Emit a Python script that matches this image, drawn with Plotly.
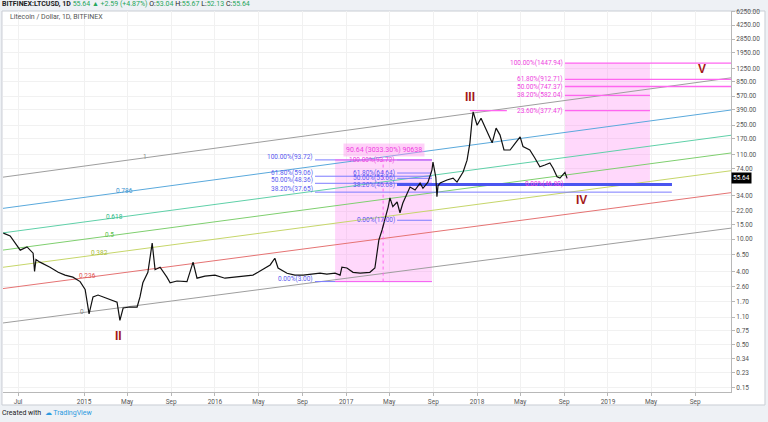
import numpy as np
import plotly.graph_objects as go

# ---------------- data ----------------
price_dates = [
    "2014-05-21", "2014-06-09", "2014-07-07", "2014-07-26", "2014-08-12", "2014-08-16", "2014-08-20",
    "2014-08-31", "2014-09-28", "2014-10-21", "2014-11-09", "2014-12-01", "2014-12-21", "2015-01-04",
    "2015-01-15", "2015-01-26", "2015-02-09", "2015-03-01", "2015-03-20", "2015-04-03", "2015-04-11",
    "2015-04-20", "2015-05-09", "2015-05-29", "2015-06-06", "2015-06-14", "2015-06-28", "2015-07-10",
    "2015-07-18", "2015-08-01", "2015-08-20", "2015-08-29", "2015-09-17", "2015-10-15", "2015-11-01",
    "2015-11-12", "2015-12-04", "2016-01-01", "2016-01-29", "2016-02-20", "2016-03-19", "2016-04-16",
    "2016-04-30", "2016-05-20", "2016-06-03", "2016-06-16", "2016-06-25", "2016-07-20", "2016-08-11",
    "2016-09-03", "2016-09-28", "2016-10-20", "2016-11-08", "2016-12-01", "2016-12-15", "2016-12-20",
    "2017-01-03", "2017-01-20", "2017-02-09", "2017-03-08", "2017-03-22", "2017-03-28", "2017-04-02",
    "2017-04-11", "2017-04-19", "2017-04-28", "2017-05-03", "2017-05-11", "2017-05-23", "2017-05-31",
    "2017-06-08", "2017-06-20", "2017-06-28", "2017-07-12", "2017-07-26", "2017-08-03", "2017-08-17",
    "2017-08-28", "2017-08-31", "2017-09-08", "2017-09-11", "2017-09-14", "2017-09-20", "2017-10-09",
    "2017-10-26", "2017-11-06", "2017-11-23", "2017-12-04", "2017-12-12", "2017-12-18", "2017-12-21",
    "2018-01-01", "2018-01-12", "2018-01-23", "2018-02-03", "2018-02-12", "2018-02-23", "2018-03-06",
    "2018-03-17", "2018-03-25", "2018-04-03", "2018-04-17", "2018-05-01", "2018-05-09", "2018-05-28",
    "2018-06-11", "2018-06-25", "2018-07-09", "2018-07-23", "2018-08-01", "2018-08-12", "2018-08-20",
    "2018-08-28", "2018-09-03", "2018-09-09",
]
price_close = [
    11.8, 10.9, 7.3, 8.0, 6.7, 4.0, 5.6,
    5.2, 4.5, 3.9, 3.6, 3.4, 3.0, 2.4,
    1.2, 1.94, 2.05, 1.89, 1.78, 1.68, 1.0,
    1.42, 1.46, 1.46, 1.94, 2.9, 3.9, 8.9,
    4.2, 4.5, 3.4, 2.9, 3.05, 3.0, 5.2,
    3.3, 3.5, 3.6, 3.3, 3.4, 3.5, 3.6,
    3.9, 4.4, 4.8, 5.8, 4.4, 3.8, 3.6,
    3.6, 3.7, 3.8, 3.7, 3.8, 3.6, 4.5,
    4.4, 3.9, 3.8, 3.9, 4.4, 7.3, 9.7,
    12.9, 17.0, 24.7, 32.0, 25.0, 28.5, 21.0,
    27.7, 36.7, 43.5, 40.0, 48.7, 42.0, 50.0,
    70.0, 88.0, 57.0, 33.0, 45.0, 48.7, 53.0,
    56.0, 50.0, 66.6, 93.0, 152.0, 290.0, 364.0,
    250.0, 305.0, 237.0, 189.0, 152.0, 230.0, 189.0,
    124.0, 124.0, 124.0, 150.0, 180.0, 137.0, 124.0,
    99.0, 77.0, 81.0, 86.0, 74.0, 58.0, 56.0,
    61.0, 66.0, 55.64,
]
last_price = 55.64

ytick_vals = [0.15, 0.23, 0.34, 0.50, 0.75, 1.10, 1.70, 2.60, 4.00, 6.50, 10.0, 15.0, 22.0, 34.0,
              74.0, 110.0, 170.0, 250.0, 390.0, 570.0, 850.0, 1250.0, 1950.0, 2850.0, 4250.0, 6250.0]
ytick_text = ["0.15", "0.23", "0.34", "0.50", "0.75", "1.10", "1.70", "2.60", "4.00", "6.50", "10.00",
              "15.00", "22.00", "34.00", "74.00", "110.00", "170.00", "250.00", "390.00", "570.00",
              "850.00", "1250.00", "1950.00", "2850.00", "4250.00", "6250.00"]
xtick_vals = ["2014-07-01", "2015-01-01", "2015-05-01", "2015-09-01", "2016-01-01", "2016-05-01",
              "2016-09-01", "2017-01-01", "2017-05-01", "2017-09-01", "2018-01-01", "2018-05-01",
              "2018-09-01", "2019-01-01", "2019-05-01", "2019-09-01"]
xtick_text = ["Jul", "2015", "May", "Sep", "2016", "May", "Sep", "2017", "May", "Sep", "2018", "May",
              "Sep", "2019", "May", "Sep"]

# Fibonacci channel (anchors of the 0 line and the 1 line)
chan_dates = ["2014-05-20", "2019-12-10"]
chan_base = [0.93, 13.6]
chan_top = [57.5, 955.0]
chan_levels = [0, 0.236, 0.382, 0.5, 0.618, 0.786, 1]
chan_text = ["0", "0.236", "0.382", "0.5", "0.618", "0.786", "1"]
chan_label_dates = ["2014-12-26", "2015-01-12", "2015-02-14", "2015-03-14", "2015-03-28", "2015-04-25", "2015-06-20"]
chan_colors = ["#9e9e9e", "#e57373", "#c6d66a", "#7fcf6f", "#5fd0a8", "#5aa9dc", "#9e9e9e"]
chan_text_colors = ["#8a8a8a", "#e05555", "#a8bb35", "#5cbf4a", "#30b887", "#3c93cf", "#8a8a8a"]

# Fib retracement 1 (blue)
fib1_prices = [3.00, 37.65, 48.36, 59.06, 93.72]
fib1_text = ["0.00%(3.00)", "38.20%(37.65)", "50.00%(48.36)", "61.80%(59.06)", "100.00%(93.72)"]
fib1_start = "2016-10-06"
fib1_ends = ["2017-08-28", "2019-06-28", "2017-08-28", "2017-08-28", "2017-08-28"]

# Fib retracement 2 (blue)
fib2_prices = [17.00, 46.68, 55.66, 64.64, 93.72]
fib2_text = ["0.00%(17.00)", "38.20%(46.68)", "50.00%(55.66)", "61.80%(64.64)", "100.00%(93.72)"]
fib2_start = "2017-05-23"
fib2_ends = ["2017-08-28", "2019-06-28", "2017-08-28", "2017-08-28", "2017-08-28"]
fib2_widths = [1, 3, 1, 1, 1]

# Fib extension 3 (pink)
fib3_prices = [46.80, 377.47, 582.04, 747.37, 912.71, 1447.94]
fib3_text = ["0.00%(46.80)", "23.60%(377.47)", "38.20%(582.04)", "50.00%(747.37)", "61.80%(912.71)", "100.00%(1447.94)"]
fib3_start = "2018-09-03"
fib3_ends = ["2019-04-28", "2019-04-28", "2019-04-28", "2019-12-10", "2019-12-10", "2019-12-10"]
fib3_box_end = "2019-04-28"
iii_line_dates = ["2017-12-12", "2018-03-25"]

# Date & price range box
range_box_dates = ["2016-12-01", "2017-08-28"]
range_box_prices = [3.00, 93.72]
range_mid_date = "2017-04-14"
range_label = "90.64 (3033.30%) 90638"
range_label_date = "2017-04-16"

# Elliott wave labels
wave_text = ["II", "III", "IV", "V"]
wave_dates = ["2015-04-08", "2017-12-12", "2018-10-18", "2019-09-21"]
wave_prices = [0.64, 555.0, 30.0, 1225.0]

BLUE_LINE = "#7c7cff"
BLUE_TEXT = "#5a5af0"
BLUE_THICK = "#4a55f0"
PINK_LINE = "#ff66f0"
PINK_TEXT = "#ee3fe0"
PINK_FILL = "rgba(255,110,240,0.27)"
FONT = "Roboto"

fig = go.Figure()


def hline(x0, x1, p, color, width=1, dash="solid"):
    fig.add_trace(go.Scatter(x=[x0, x1], y=[p, p], mode="lines",
                             line=dict(color=color, width=width, dash=dash),
                             hoverinfo="skip", showlegend=False))


def box(x0, x1, p0, p1, fill):
    fig.add_trace(go.Scatter(x=[x0, x1, x1, x0, x0], y=[p0, p0, p1, p1, p0], mode="lines",
                             fill="toself", fillcolor=fill, line=dict(width=0),
                             hoverinfo="skip", showlegend=False))


# boxes
box(range_box_dates[0], range_box_dates[1], range_box_prices[0], range_box_prices[1], PINK_FILL)
box(fib3_start, fib3_box_end, fib3_prices[0], fib3_prices[-1], PINK_FILL)

# channel lines
lb = np.log10(chan_base)
lt = np.log10(chan_top)
for lev, col in zip(chan_levels, chan_colors):
    ys = 10 ** (lb + (lt - lb) * lev)
    fig.add_trace(go.Scatter(x=chan_dates, y=ys, mode="lines", line=dict(color=col, width=1),
                             hoverinfo="skip", showlegend=False))

# fib 1
for p, e in zip(fib1_prices, fib1_ends):
    hline(fib1_start, e, p, BLUE_LINE, 1)
# fib 2
for p, e, w in zip(fib2_prices, fib2_ends, fib2_widths):
    hline(fib2_start, e, p, BLUE_THICK if w > 1 else BLUE_LINE, w)
# range box edges
hline(range_box_dates[0], range_box_dates[1], range_box_prices[0], PINK_LINE, 1)
hline(range_box_dates[0], range_box_dates[1], range_box_prices[1], PINK_LINE, 1)
fig.add_trace(go.Scatter(x=[range_mid_date, range_mid_date], y=range_box_prices, mode="lines",
                         line=dict(color=PINK_LINE, width=1, dash="dot"), hoverinfo="skip", showlegend=False))
# fib 3
for p, e in zip(fib3_prices, fib3_ends):
    hline(fib3_start, e, p, PINK_LINE, 1.3)
hline(iii_line_dates[0], iii_line_dates[1], fib3_prices[1], PINK_LINE, 1.3)
# re-draw thick blue on top
hline(fib2_start, fib2_ends[1], fib2_prices[1], BLUE_THICK, 3)

# price
fig.add_trace(go.Scatter(x=price_dates, y=price_close, mode="lines",
                         line=dict(color="#111111", width=1.2), hoverinfo="skip", showlegend=False))

ann = []


def label(x, p, text, color, xanchor="right", yshift=3, size=6.5, bg=None):
    d = dict(x=x, y=float(np.log10(p)), xref="x", yref="y", text=text, showarrow=False,
             xanchor=xanchor, yanchor="middle", yshift=yshift,
             font=dict(family=FONT, size=size, color=color))
    if bg:
        d["bgcolor"] = bg
    ann.append(d)


for t, p in zip(fib1_text, fib1_prices):
    label(fib1_start, p, t, BLUE_TEXT)
for i, (t, p) in enumerate(zip(fib2_text, fib2_prices)):
    label(fib2_start, p, t, PINK_TEXT if i == 4 else BLUE_TEXT, yshift=0)
for t, p in zip(fib3_text, fib3_prices):
    label(fib3_start, p, t, PINK_TEXT, yshift=0)

ann.append(dict(x=range_label_date, y=float(np.log10(range_box_prices[1])), xref="x", yref="y",
                text=range_label, showarrow=False, xanchor="center", yanchor="bottom", yshift=3,
                bgcolor="rgba(255,150,240,0.45)", borderpad=2,
                font=dict(family=FONT, size=7, color=PINK_TEXT)))

# channel labels
cd = np.array(chan_dates, dtype="datetime64[D]").astype(float)
for t, d, lev, col in zip(chan_text, chan_label_dates, chan_levels, chan_text_colors):
    f = (np.datetime64(d, "D").astype(float) - cd[0]) / (cd[1] - cd[0])
    lyv = lb[0] + (lb[1] - lb[0]) * f
    lyt = lt[0] + (lt[1] - lt[0]) * f
    yv = lyv + (lyt - lyv) * lev
    ann.append(dict(x=d, y=float(yv), xref="x", yref="y", text=t, showarrow=False,
                    xanchor="center", yanchor="middle", yshift=1,
                    font=dict(family=FONT, size=6.5, color=col)))

for t, d, p in zip(wave_text, wave_dates, wave_prices):
    ann.append(dict(x=d, y=float(np.log10(p)), xref="x", yref="y", text="<b>%s</b>" % t, showarrow=False,
                    xanchor="center", yanchor="middle",
                    font=dict(family="Liberation Sans", size=12, color="#a31818")))

# last price tag
ann.append(dict(x=1.0, y=float(np.log10(last_price)), xref="paper", yref="y", text="%.2f" % last_price,
                showarrow=False, xanchor="left", yanchor="middle", bgcolor="#000000", borderpad=1,
                font=dict(family=FONT, size=6.5, color="#ffffff")))

# header / title / footer
G = "#26a65b"
header = ("<b>BITFINEX:LTCUSD, 1D</b> <span style='color:%s'>55.64 \u25b2 +2.59 (+4.87%%)</span> "
          "O:<span style='color:%s'>53.04</span> H:<span style='color:%s'>55.67</span> "
          "L:<span style='color:%s'>52.13</span> C:<span style='color:%s'>55.64</span>") % (G, G, G, G, G)
ann.append(dict(x=-0.004, y=1.0, xref="paper", yref="paper", text=header, showarrow=False,
                xanchor="left", yanchor="bottom", yshift=1, font=dict(family=FONT, size=7, color="#222")))
ann.append(dict(x=0.007, y=0.985, xref="paper", yref="paper", text="Litecoin / Dollar, 1D, BITFINEX",
                showarrow=False, xanchor="left", yanchor="middle", font=dict(family=FONT, size=7, color="#555")))
ann.append(dict(x=-0.004, y=-0.055, xref="paper", yref="paper",
                text="Created with  <span style='color:#2b9ae0'>\u2601 TradingView</span>",
                showarrow=False, xanchor="left", yanchor="middle", font=dict(family=FONT, size=7, color="#222")))

fig.update_layout(
    width=768, height=422,
    margin=dict(l=3, r=37, t=11, b=30),
    paper_bgcolor="#eef1f5", plot_bgcolor="#ffffff",
    showlegend=False,
    annotations=ann,
    shapes=[dict(type="rect", xref="paper", yref="paper", x0=-0.0014, x1=1.0467, y0=-0.0341, y1=1.0,
                 fillcolor="#ffffff", line=dict(color="#c9cdd4", width=1), layer="below")],
    xaxis=dict(type="date", range=["2014-05-20", "2019-12-10"], tickvals=xtick_vals, ticktext=xtick_text,
               showgrid=True, gridcolor="#f1f1f1", gridwidth=1, showline=True, linecolor="#b8b8b8",
               ticks="outside", ticklen=3, tickcolor="#b8b8b8",
               tickfont=dict(family=FONT, size=6.5, color="#555"), zeroline=False, fixedrange=True),
    yaxis=dict(type="log", side="right", range=[np.log10(0.132), np.log10(6324)],
               tickvals=ytick_vals, ticktext=ytick_text, showgrid=True, gridcolor="#f1f1f1",
               showline=True, linecolor="#b8b8b8", ticks="outside", ticklen=3, tickcolor="#b8b8b8",
               tickfont=dict(family=FONT, size=6.5, color="#555"), zeroline=False, fixedrange=True),
)

fig.write_html("out.html", config={"displayModeBar": False},
               post_script="document.body.style.margin='0';document.body.style.background='#eef1f5';")
